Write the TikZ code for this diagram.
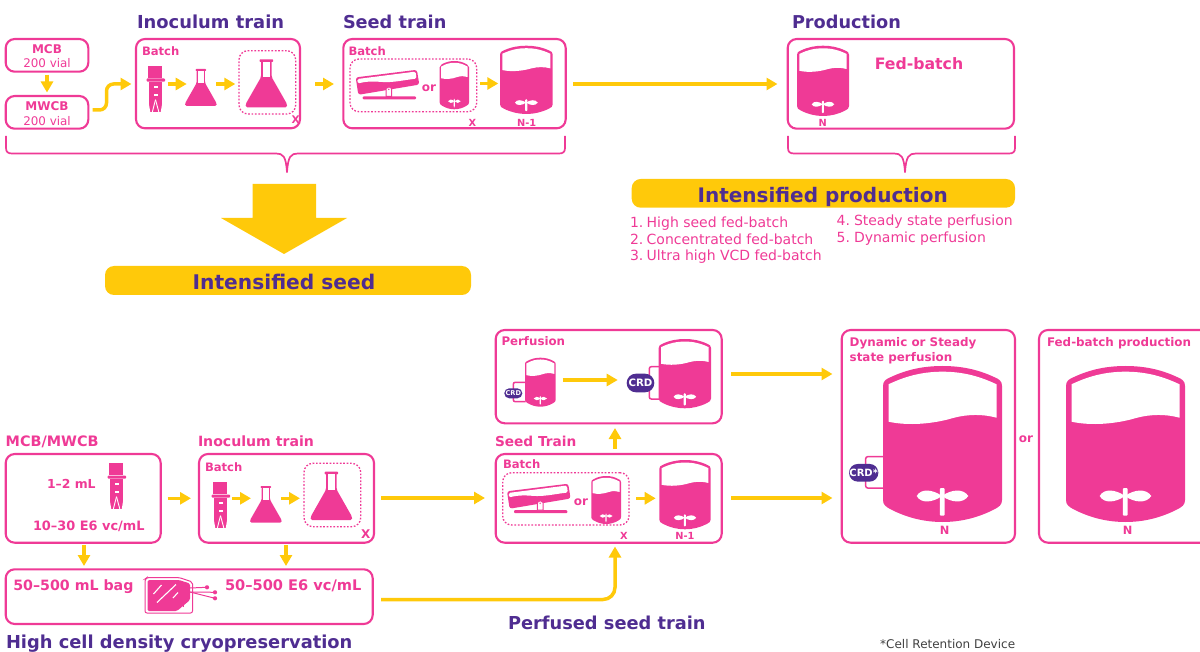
\documentclass[tikz,border=0pt]{standalone}
\usepackage{fontspec}
\setmainfont{DejaVu Sans}
\usetikzlibrary{arrows.meta,fit}
\definecolor{pnk}{HTML}{EF3A96}
\definecolor{yel}{HTML}{FFC90A}
\definecolor{pur}{HTML}{4F2D91}
\newcommand\fb[1]{\bfseries\fontsize{#1}{#1}\selectfont}
\newcommand\fr[1]{\fontsize{#1}{#1}\selectfont}
\tikzset{
  pbox/.style={draw=pnk,line width=2.1pt,rounded corners=9pt,inner sep=0pt,outer sep=0pt},
  dbox/.style={draw=pnk,line width=1.3pt,dash pattern=on 1.7pt off 1.7pt,rounded corners=9pt,inner sep=0pt,outer sep=0pt},
  yarrow/.style={draw=yel,line width=3.5pt,-{Triangle[length=11pt,width=12pt]}},
  lab/.style={anchor=base west,inner sep=0pt,outer sep=0pt,text=pnk,yshift=-.8pt},
  cen/.style={anchor=base,inner sep=0pt,outer sep=0pt,text=pnk,yshift=-.8pt},
  ttl/.style={anchor=base west,inner sep=0pt,outer sep=0pt,text=pur,yshift=-.8pt},
  ybar/.style={fill=yel,rounded corners=9pt,inner sep=0pt,outer sep=0pt},
  crd/.style={fill=pur,rounded corners=5pt,inner sep=0pt,outer sep=0pt,text=white},
  loopline/.style={draw=pnk,line width=1.5pt,rounded corners=2pt},
  brace/.style={draw=pnk,line width=1.7pt}
}
% vessel: outer box x1,y1,x2,y2
\newcommand\vessel[4]{\begin{scope}[shift={(#1,#2)},xscale={(#3-#1)/119},yscale={(#4-#2)/156}]
 \fill[pnk] (0,20) .. controls (0,15) and (3,13) .. (8,11) .. controls (25,3) and (42,0) .. (59.5,0)
   .. controls (77,0) and (94,3) .. (111,11) .. controls (116,13) and (119,15) .. (119,20)
   -- (119,134) .. controls (119,139) and (116,141) .. (110,144) .. controls (94,152) and (77,156) .. (59.5,156)
   .. controls (42,156) and (25,152) .. (9,144) .. controls (3,141) and (0,139) .. (0,134) -- cycle;
 \fill[white] (5.5,18.3) .. controls (25,9) and (42,5.7) .. (59.5,5.7) .. controls (77,5.7) and (94,9) .. (113.5,18.3)
   -- (113.5,51.7) .. controls (100,48) and (85,48) .. (70,52) .. controls (50,58) and (25,60) .. (5.5,55.7) -- cycle;
 \fill[white] (59,130) .. controls (50,123.5) and (38,122) .. (33.7,130) .. controls (38,138) and (50,136.5) .. (59,130);
 \fill[white] (59,130) .. controls (68,123.5) and (80,122) .. (85.3,130) .. controls (80,138) and (68,136.5) .. (59,130);
 \fill[white,rounded corners=1pt] (56.8,122) rectangle (61.6,149.7);
\end{scope}}
% flask: outer box
\newcommand\flask[4]{\begin{scope}[shift={(#1,#2)},xscale={(#3-#1)/41.3},yscale={(#4-#2)/48.3}]
 \fill[pnk,rounded corners=1.5pt] (15.3,1) -- (15.3,18) -- (0,45) -- (0,48.3) -- (41.3,48.3) -- (41.3,45) -- (26,18) -- (26,1) -- cycle;
 \fill[pnk,rounded corners=.8pt] (13.8,0) rectangle (27.5,2.6);
 \fill[white] (17,2.6) rectangle (24.3,18.3);
\end{scope}}
% vial: top-left corner
\newcommand\vial[2]{\begin{scope}[shift={(#1,#2)}]
 \fill[pnk] (1.7,0) rectangle (15.2,12.3);
 \fill[pnk,rounded corners=.8pt] (0,12.8) rectangle (18.3,16);
 \fill[pnk] (2.6,16) -- (15,16) -- (15,46) -- (2.6,46) -- cycle;
 \fill[white] (7.3,20.5) rectangle (11,22.2);
 \fill[white] (7.3,28.5) rectangle (11,30.2);
 \draw[white,line width=.9pt] (8.8,34) -- (5.6,46.5);
 \draw[white,line width=.9pt] (8.8,34) -- (12.2,46.5);
 \fill[white] (1.8,36) -- (3.6,46.5) -- (1.8,46.5) -- cycle;
 \fill[white] (15.8,36) -- (14,46.5) -- (15.8,46.5) -- cycle;
\end{scope}}
% rocker: offset from its position in the upper row
\newcommand\rocker[2]{\begin{scope}[shift={(#1,#2)}]
 \fill[pnk,rounded corners=2.5pt] (355.7,77.4) -- (416.9,69.8) -- (419.3,84.6) -- (358.3,94.8) -- cycle;
 \fill[white,rounded corners=1.5pt] (357.4,79) -- (415.6,71.6) -- (416.5,78.6) .. controls (405,80) and (398,81.5) .. (390,82) .. controls (380,82.5) and (372,80) .. (357.6,83.5) -- cycle;
 \fill[pnk,rounded corners=1pt] (362.7,96.3) rectangle (416,99.3);
 \fill[white,draw=pnk,line width=1pt] (386,88.5) -- (386,96.3) -- (391.7,96.3) -- (391.7,88.5) -- (389,86.8) -- cycle;
 \fill[pnk] (388.8,89.3) circle (.8pt);
\end{scope}}
\begin{document}
\begin{tikzpicture}[x=1pt,y=-1pt]
\useasboundingbox (0,0) rectangle (1200,652);
% ---- titles
\node[ttl,font=\fb{17.9}] (t1) at (137,28) {Inoculum train};
\node[ttl,font=\fb{17.7}] (t2) at (343,28) {Seed train};
\node[ttl,font=\fb{17.7}] (t3) at (792,28) {Production};
% ---- upper boxes
\node[pbox,fit={(5.7,39) (88.3,71.7)}] (mcb) {};
\node[pbox,fit={(5.7,96) (88.3,128.7)}] (mwcb) {};
\node[pbox,fit={(136,39) (300,128.3)}] (inocA) {};
\node[dbox,fit={(239,50.7) (295.7,114)}] (dotA) {};
\node[pbox,fit={(343.3,39) (565.7,128.3)}] (seedA) {};
\node[dbox,fit={(350,59) (476.7,111.7)}] (dotB) {};
\node[pbox,fit={(787.7,39) (1014,128.7)}] (prodA) {};
\node[cen,font=\fb{12}] (x1) at (47,52.7) {MCB};
\node[cen,font=\fr{11.9}] (x2) at (47,66.7) {200 vial};
\node[cen,font=\fb{12}] (x3) at (47,110) {MWCB};
\node[cen,font=\fr{11.9}] (x4) at (47,124.3) {200 vial};
\node[lab,font=\fb{11.6}] (x5) at (142,55) {Batch};
\node[lab,font=\fb{10.5}] (x6) at (291.5,123) {X};
\node[lab,font=\fb{11.6}] (x7) at (348.5,55) {Batch};
\node[cen,font=\fb{12}] (x8) at (429,91) {or};
\node[cen,font=\fb{9.8}] (x9) at (472.3,126) {X};
\node[cen,font=\fb{9.8}] (x10) at (526.7,126) {N-1};
\node[cen,font=\fb{15.7}] (x11) at (919,68.3) {Fed-batch};
\node[cen,font=\fb{9.8}] (x12) at (822.7,126) {N};
% ---- upper icons
\vial{146.7}{65.7}
\flask{185}{69}{216.7}{106}
\flask{245.7}{59.3}{287}{107.3}
\rocker{0}{0}
\vessel{439.7}{61}{469}{109.3}
\vessel{500}{45.7}{552.7}{114}
\vessel{797}{45.7}{849}{116}
% ---- upper arrows
\draw[yarrow,shorten <=3pt,shorten >=3.5pt] (mcb.south) -- (mwcb.north);
\coordinate (a1s) at (92.7,110); \coordinate (a1e) at (131.5,84);
\draw[yarrow,rounded corners=7pt] (a1s) -- (106.5,110) -- (106.5,84) -- (a1e);
\coordinate (a2s) at (167.7,84); \coordinate (a2e) at (186.7,84);
\draw[yarrow] (a2s) -- (a2e);
\coordinate (a3s) at (216,84); \coordinate (a3e) at (235.3,84);
\draw[yarrow] (a3s) -- (a3e);
\coordinate (a4s) at (315,84); \coordinate (a4e) at (334,84);
\draw[yarrow] (a4s) -- (a4e);
\coordinate (a5s) at (480,83.5); \coordinate (a5e) at (498.3,83.5);
\draw[yarrow] (a5s) -- (a5e);
\coordinate (a6s) at (573,84); \coordinate (a6e) at (777.5,84);
\draw[yarrow] (a6s) -- (a6e);
% ---- braces
\draw[brace] (6,136) -- (6,148) .. controls (6,152) and (8,153.5) .. (12,153.5) -- (276,153.5) .. controls (283,153.5) and (286,156) .. (287,172.5) .. controls (288,156) and (291,153.5) .. (298,153.5) -- (559,153.5) .. controls (563,153.5) and (565,152) .. (565,148) -- (565,136);
\draw[brace] (788,136) -- (788,148) .. controls (788,152) and (790,153.5) .. (794,153.5) -- (894,153.5) .. controls (901,153.5) and (904,156) .. (905,172.5) .. controls (906,156) and (909,153.5) .. (916,153.5) -- (1009,153.5) .. controls (1013,153.5) and (1015,152) .. (1015,148) -- (1015,136);
% ---- block arrow and banners
\fill[yel] (252.5,184) -- (316,184) -- (316,218) -- (347,218) -- (284,254) -- (221,218) -- (252.5,218) -- cycle;
\node[ybar,fit={(105,266) (471,295)}] (iseed) {};
\node[anchor=base,inner sep=0pt,text=pur,font=\fb{20.2},yshift=-.8pt] (iseedt) at (284,289) {Intensified seed};
\node[ybar,fit={(631.7,179) (1015,207.7)}] (iprod) {};
\node[anchor=base,inner sep=0pt,text=pur,font=\fb{20},yshift=-.8pt] (iprodt) at (822.7,201.7) {Intensified production};
% ---- list
\node[lab,font=\fr{14}] (l1) at (630,226.7) {1.};
\node[lab,font=\fr{14}] (l1t) at (646.7,226.7) {High seed fed-batch};
\node[lab,font=\fr{14}] (l2) at (630,243.3) {2.};
\node[lab,font=\fr{14}] (l2t) at (646.7,243.3) {Concentrated fed-batch};
\node[lab,font=\fr{14}] (l3) at (630,260) {3.};
\node[lab,font=\fr{14}] (l3t) at (646.7,260) {Ultra high VCD fed-batch};
\node[lab,font=\fr{14}] (l4) at (836.7,225) {4.};
\node[lab,font=\fr{14}] (l4t) at (854,225) {Steady state perfusion};
\node[lab,font=\fr{14}] (l5) at (836.7,241.7) {5.};
\node[lab,font=\fr{14}] (l5t) at (854,241.7) {Dynamic perfusion};
% ---- lower boxes
\node[pbox,fit={(5.7,454) (160.7,542.7)}] (bank) {};
\node[pbox,fit={(199,454) (374,542.7)}] (inocB) {};
\node[dbox,fit={(304,463.3) (360.7,526.7)}] (dotC) {};
\node[pbox,fit={(5.7,569.3) (372.7,624)}] (bag) {};
\node[pbox,fit={(495.7,330) (721.7,423.3)}] (perf) {};
\node[pbox,fit={(495.7,454) (721.7,542.7)}] (seedB) {};
\node[dbox,fit={(502.7,472.7) (629,525)}] (dotD) {};
\node[pbox,fit={(841.7,330) (1015,542.7)}] (dyn) {};
\begin{scope}
\clip (1030,320) rectangle (1200,552);
\node[pbox,fit={(1039,330) (1215,542.7)}] (fedp) {};
\end{scope}
% ---- lower texts
\node[ttl,text=pnk,font=\fb{14.4}] (b1) at (5.7,445.7) {MCB/MWCB};
\node[ttl,text=pnk,font=\fb{14.1}] (b2) at (198,445.7) {Inoculum train};
\node[lab,font=\fb{11.6}] (b3) at (205,470.7) {Batch};
\node[lab,font=\fb{12.4}] (b4) at (47,487.3) {1–2 mL};
\node[lab,font=\fb{12.9}] (b5) at (33,529.3) {10–30 E6 vc/mL};
\node[lab,font=\fb{12}] (b6) at (361,537.7) {X};
\node[lab,font=\fb{14.2}] (b7) at (13.3,589.3) {50–500 mL bag};
\node[lab,font=\fb{14.6}] (b8) at (225,589.3) {50–500 E6 vc/mL};
\node[ttl,font=\fb{17.85}] (b9) at (6,647.7) {High cell density cryopreservation};
\node[ttl,font=\fb{17.8}] (b10) at (508,629) {Perfused seed train};
\node[anchor=base west,inner sep=0pt,text=black!75,font=\fr{12}] (b11) at (880,648) {*Cell Retention Device};
\node[lab,font=\fb{13.7}] (b12) at (495,445.7) {Seed Train};
\node[lab,font=\fb{11.8}] (b13) at (501.5,345) {Perfusion};
\node[lab,font=\fb{11.6}] (b14) at (503,467.7) {Batch};
\node[cen,font=\fb{9.8}] (b15) at (624,539) {X};
\node[cen,font=\fb{9.8}] (b16) at (685,539) {N-1};
\node[cen,font=\fb{12}] (b17) at (581,505) {or};
\node[lab,font=\fb{11.9}] (b18) at (849.7,345.7) {Dynamic or Steady};
\node[lab,font=\fb{11.9}] (b19) at (849.7,360.7) {state perfusion};
\node[lab,font=\fb{11.9}] (b20) at (1047,345.7) {Fed-batch production};
\node[cen,font=\fb{12}] (b21) at (1026,442) {or};
\node[cen,font=\fb{11.4}] (b22) at (944.7,534) {N};
\node[cen,font=\fb{11.4}] (b23) at (1127.7,534) {N};
% ---- lower icons
\vial{107.7}{462.7}
\vial{211.7}{481.7}
\flask{250}{486}{281.7}{522.7}
\flask{310.7}{471.7}{352}{520}
\rocker{151.3}{413.9}
\vessel{591.3}{476}{621}{524}
\vessel{659.3}{460}{710.7}{529.3}
% CRD loops and vessels
\draw[loopline] (525.7,382.3) -- (513.3,382.3) -- (513.3,401.7) -- (525.7,401.7);
\vessel{525}{357.7}{555.7}{406.7}
\node[crd,rounded corners=4.9pt,minimum width=18pt,minimum height=10pt,font=\fb{6.6}] (crd1) at (513.3,393.3) {CRD};
\draw[loopline] (660,366.7) -- (649.3,366.7) -- (649.3,399) -- (660,399);
\vessel{658.7}{339}{711}{408.3}
\node[crd,rounded corners=9.2pt,minimum width=27.6pt,minimum height=18.6pt,font=\fb{10.2}] (crd2) at (640.5,383) {CRD};
\draw[loopline] (885,456.7) -- (865.7,456.7) -- (865.7,488) -- (885,488);
\vessel{883}{366}{1002}{522}
\vessel{1066}{366}{1185}{522}
\node[crd,rounded corners=8.7pt,minimum width=29.3pt,minimum height=17.7pt,font=\fb{10}] (crd3) at (863.7,472.8) {CRD*};
% ---- bag icon
\draw[pnk,line width=1pt,rounded corners=2pt] (145,579) -- (147,577.5) -- (179,577.5) -- (192.5,582) -- (192.5,613) -- (145,613) -- cycle;
\fill[pnk,rounded corners=1.5pt] (147.5,580) -- (179,580) -- (190,583.5) -- (190,600) -- (177,611) -- (147.5,611) -- cycle;
\draw[white,line width=1.1pt] (153.5,594) -- (161.5,585);
\draw[white,line width=1.1pt] (157,602.5) -- (176,584.5);
\draw[white,line width=1.1pt] (173,598) -- (178,592.5);
\fill[pnk] (182.5,602) rectangle (183.8,607);
\coordinate (tb0) at (190,588); \coordinate (tb1) at (207,587.3); \coordinate (tb2) at (215,592.3); \coordinate (tb3) at (215,598.3);
\draw[pnk,line width=1pt] (tb0) -- (tb1);
\draw[pnk,line width=1pt] (190,592) -- (tb2);
\draw[pnk,line width=1pt] (190,592) -- (tb3);
\fill[pnk] (tb1) circle (2.1pt) (tb2) circle (2.1pt) (tb3) circle (2.1pt);
% ---- lower arrows
\coordinate (c1s) at (167.7,498.3); \coordinate (c1e) at (191,498.3);
\draw[yarrow] (c1s) -- (c1e);
\coordinate (c2s) at (232.3,498.3); \coordinate (c2e) at (251,498.3);
\draw[yarrow] (c2s) -- (c2e);
\coordinate (c3s) at (281,498.3); \coordinate (c3e) at (300,498.3);
\draw[yarrow] (c3s) -- (c3e);
\coordinate (c4s) at (381,498); \coordinate (c4e) at (485,498);
\draw[yarrow] (c4s) -- (c4e);
\coordinate (c5s) at (615,449); \coordinate (c5e) at (615,428);
\draw[yarrow] (c5s) -- (c5e);
\coordinate (c6s) at (562.7,380); \coordinate (c6e) at (617.7,380);
\draw[yarrow] (c6s) -- (c6e);
\coordinate (c7s) at (636,498.3); \coordinate (c7e) at (655.7,498.3);
\draw[yarrow] (c7s) -- (c7e);
\coordinate (c8s) at (731,374); \coordinate (c8e) at (832.5,374);
\draw[yarrow] (c8s) -- (c8e);
\coordinate (c9s) at (731,498); \coordinate (c9e) at (832.5,498);
\draw[yarrow] (c9s) -- (c9e);
\coordinate (d1s) at (84,545); \coordinate (d1e) at (84,566);
\draw[yarrow] (d1s) -- (d1e);
\coordinate (d2s) at (286,545); \coordinate (d2e) at (286,566);
\draw[yarrow] (d2s) -- (d2e);
\coordinate (d3s) at (381,599.5); \coordinate (d3e) at (615,546.5);
\draw[yarrow,rounded corners=12pt] (d3s) -- (615,599.5) -- (d3e);
\end{tikzpicture}
\end{document}
